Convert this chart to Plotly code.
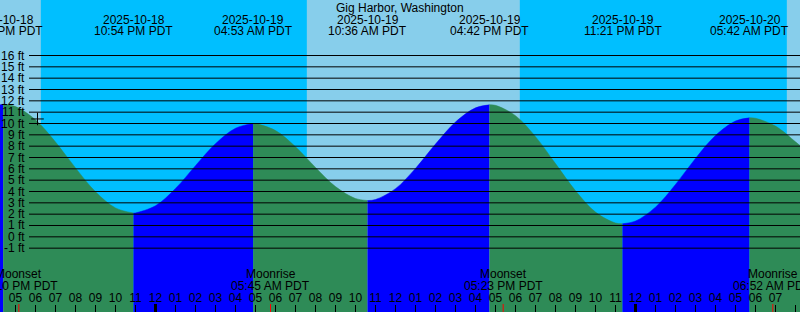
import plotly.graph_objects as go
import pandas as pd

# ---------------- data ----------------
station = "Gig Harbor, Washington"
view_start = "2025-10-18 16:13:30"
view_end = "2025-10-20 08:13:30"
edge_levels = [11.65, 8.05]  # water level (ft) at left / right edge of the view

event_times = ["2025-10-18 16:23", "2025-10-18 22:54", "2025-10-19 04:53",
               "2025-10-19 10:36", "2025-10-19 16:42", "2025-10-19 23:21",
               "2025-10-20 05:42"]
event_kinds = ["High", "Low", "High", "Low", "High", "Low", "High"]
event_levels = [11.7, 2.1, 10.0, 3.2, 11.65, 1.15, 10.5]

# hourly water level readings (ft), 2025-10-18 17:00 .. 2025-10-20 08:00
reading_times = pd.date_range("2025-10-18 17:00", periods=40, freq="h")
reading_levels = [11.49, 10.32, 8.37, 6.08, 3.98, 2.55, 2.11, 2.74, 4.27, 6.28,
                  8.22, 9.58, 9.99, 9.38, 7.95, 6.12, 4.43, 3.38, 3.29, 4.25,
                  6.04, 8.18, 10.13, 11.38, 11.60, 10.69, 8.84, 6.46, 4.07, 2.18,
                  1.22, 1.39, 2.62, 4.62, 6.92, 8.94, 10.22, 10.46, 9.77, 8.38]

sunset_times = ["2025-10-18 18:16", "2025-10-19 18:13"]
sunrise_times = ["2025-10-19 07:34", "2025-10-20 07:34"]

moon_times = ["2025-10-18 17:10", "2025-10-19 05:45", "2025-10-19 17:23", "2025-10-20 06:52"]
moon_kinds = ["Moonset", "Moonrise", "Moonset", "Moonrise"]

midnights = ["2025-10-19 00:00", "2025-10-20 00:00"]
level_ticks = list(range(-1, 17))

now_time = "2025-10-18 18:06"
now_level = 10.4

# ---------------- styling ----------------
W, H = 800, 312
DAY = "#87CEEB"
NIGHT = "#00BFFF"
RISE = "#0000FF"
FALL = "#2E8B57"
FONT = "Liberation Sans, Arial, sans-serif"
y_range = [-6.633, 20.897]

fig = go.Figure()

fmt = "%Y-%m-%d %H:%M:%S"
ts = lambda s: pd.Timestamp(s)
readings = [(pd.Timestamp(t), v) for t, v in zip(reading_times, reading_levels)]
bounds = [(ts(view_start), edge_levels[0], None)] + \
         [(ts(t), v, k) for t, v, k in zip(event_times, event_kinds and event_times, event_kinds)] if False else None
bounds = [(ts(view_start), edge_levels[0], None)]
for t, v, k in zip(event_times, event_levels, event_kinds):
    bounds.append((ts(t), v, k))
bounds.append((ts(view_end), edge_levels[1], None))

for i in range(len(bounds) - 1):
    a, b = bounds[i], bounds[i + 1]
    inner = [(t, v) for t, v in readings if a[0] < t < b[0]]
    xs = [a[0].strftime(fmt)] + [t.strftime(fmt) for t, v in inner] + [b[0].strftime(fmt)]
    ys = [a[1]] + [v for t, v in inner] + [b[1]]
    if b[2] is not None:
        color = RISE if b[2] == "High" else FALL
    else:
        color = FALL if a[2] == "High" else RISE
    fig.add_trace(go.Scatter(x=[xs[0], xs[-1]], y=[y_range[0] - 1] * 2, mode="lines",
                             line=dict(width=0, color=color),
                             showlegend=False, hoverinfo="skip"))
    fig.add_trace(go.Scatter(x=xs, y=ys, mode="lines",
                             line=dict(width=0.5, color=color, shape="spline"),
                             fill="tonexty", fillcolor=color, showlegend=False, hoverinfo="skip"))

# current-time marker
fig.add_trace(go.Scatter(x=[now_time], y=[now_level], mode="markers",
                         marker=dict(symbol="cross-thin", size=9, line=dict(width=1, color="black")),
                         showlegend=False, hoverinfo="skip"))

shapes = []
# daylight bands
day_starts = [view_start] + sunrise_times
day_ends = sunset_times + [view_end]
for s, e in zip(day_starts, day_ends):
    shapes.append(dict(type="rect", xref="x", yref="paper", x0=s, x1=e, y0=0, y1=1,
                       fillcolor=DAY, line=dict(width=0), layer="below"))
# level lines
for lv in level_ticks:
    shapes.append(dict(type="line", xref="paper", yref="y", x0=29 / W, x1=1, y0=lv, y1=lv,
                       line=dict(color="black", width=1), layer="above"))
# midnight ticks
for m in midnights:
    shapes.append(dict(type="line", xref="x", yref="paper", x0=m, x1=m, y0=0, y1=8 / H,
                       line=dict(color="black", width=3), layer="above"))
# moon event ticks
for m in moon_times:
    shapes.append(dict(type="line", xref="x", yref="paper", x0=m, x1=m, y0=0, y1=8 / H,
                       line=dict(color="red", width=1), layer="above"))

ann = []
ann.append(dict(text=station, xref="paper", yref="paper", x=0.5, y=1 - 7.8 / H,
                xanchor="center", yanchor="middle", showarrow=False))
for t in event_times:
    p = ts(t)
    ann.append(dict(text=p.strftime("%Y-%m-%d"), xref="x", yref="paper", x=t, y=1 - 19.5 / H,
                    xanchor="center", yanchor="middle", showarrow=False))
    ann.append(dict(text=p.strftime("%I:%M %p PDT"), xref="x", yref="paper", x=t, y=1 - 31.5 / H,
                    xanchor="center", yanchor="middle", showarrow=False))
for t, k in zip(moon_times, moon_kinds):
    p = ts(t)
    ann.append(dict(text=k, xref="x", yref="paper", x=t, y=1 - 273.8 / H,
                    xanchor="center", yanchor="middle", showarrow=False))
    ann.append(dict(text=p.strftime("%I:%M %p PDT"), xref="x", yref="paper", x=t, y=1 - 285.5 / H,
                    xanchor="center", yanchor="middle", showarrow=False))
for lv in level_ticks:
    ann.append(dict(text=f"{lv} ft", xref="paper", yref="y", x=27 / W, y=lv,
                    xanchor="right", yanchor="middle", showarrow=False))

fig.update_layout(
    width=W, height=H, autosize=False,
    margin=dict(l=0, r=0, t=0, b=0, pad=0),
    paper_bgcolor=NIGHT, plot_bgcolor=NIGHT,
    font=dict(family=FONT, size=12, color="black"),
    shapes=shapes, annotations=ann, showlegend=False,
    xaxis=dict(type="date", range=[view_start, view_end], dtick=3600000,
               tick0="2025-10-19 00:00", tickformat="%I",
               ticks="inside", ticklen=7, tickwidth=1, tickcolor="black",
               ticklabelposition="inside", tickfont=dict(size=12, color="black"),
               showgrid=False, zeroline=False, showline=False, fixedrange=True),
    yaxis=dict(range=y_range, visible=False, showgrid=False, zeroline=False, fixedrange=True),
)

fig.write_html("out.html", config={"displayModeBar": False})
